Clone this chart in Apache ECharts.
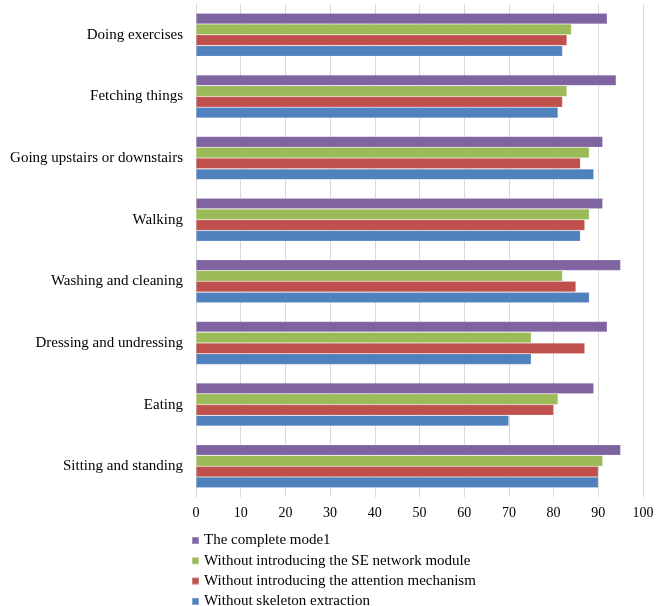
<!DOCTYPE html>
<html>
<head>
<meta charset="utf-8">
<script src="https://cdn.jsdelivr.net/npm/echarts@6/dist/echarts.min.js"></script>
<style>
html,body{margin:0;padding:0;background:#fff;}
#chart{width:657px;height:606px;}
</style>
</head>
<body>
<div id="chart"></div>
<script>
// Categories listed bottom -> top
var categories = ['Sitting and standing', 'Eating', 'Dressing and undressing', 'Washing and cleaning', 'Walking', 'Going upstairs or downstairs', 'Fetching things', 'Doing exercises'];
var seriesNames = ['The complete mode1', 'Without introducing the SE network module', 'Without introducing the attention mechanism', 'Without skeleton extraction'];
var completeModel = [95, 89, 92, 95, 91, 91, 94, 92];
var withoutSE = [91, 81, 75, 82, 88, 88, 83, 84];
var withoutAttention = [90, 80, 87, 85, 87, 86, 82, 83];
var withoutSkeleton = [90, 70, 75, 88, 86, 89, 81, 82];
var xTicks = [0, 10, 20, 30, 40, 50, 60, 70, 80, 90, 100];

var colors = ['#8064A2', '#9BBB59', '#C0504D', '#4F81BD'];
var values = [completeModel, withoutSE, withoutAttention, withoutSkeleton];

var chart = echarts.init(document.getElementById('chart'));
var series = values.map(function (v, i) {
  return {
    name: seriesNames[i],
    type: 'bar',
    data: v,
    barGap: '0%',
    barCategoryGap: '30%',
    itemStyle: { color: colors[i], borderColor: 'rgba(255,255,255,0.3)', borderWidth: 0.6 },
    animation: false
  };
});

chart.setOption({
  animation: false,
  grid: { left: 196, right: 14, top: 4, height: 493, containLabel: false },
  xAxis: {
    type: 'value',
    min: xTicks[0],
    max: xTicks[xTicks.length - 1],
    interval: 10,
    axisLine: { show: false },
    axisTick: { show: false },
    splitLine: { show: true, lineStyle: { color: '#d9d9d9', width: 1 } },
    axisLabel: { color: '#000', fontFamily: 'Liberation Serif', fontSize: 14, margin: 9 }
  },
  yAxis: {
    type: 'category',
    data: categories,
    axisLine: { show: true, lineStyle: { color: '#d9d9d9', width: 1 } },
    axisTick: { show: false },
    axisLabel: { color: '#000', fontFamily: 'Liberation Serif', fontSize: 15, margin: 13 }
  },
  legend: {
    orient: 'vertical',
    left: 191,
    top: 532,
    height: 120,
    padding: 0,
    itemWidth: 7,
    itemHeight: 7,
    itemGap: 3.3,
    itemTextGap: 2,
    icon: 'rect',
    data: seriesNames.slice(),
    textStyle: { color: '#000', fontFamily: 'Liberation Serif', fontSize: 15, lineHeight: 17 }
  },
  series: series
});
</script>
</body>
</html>
